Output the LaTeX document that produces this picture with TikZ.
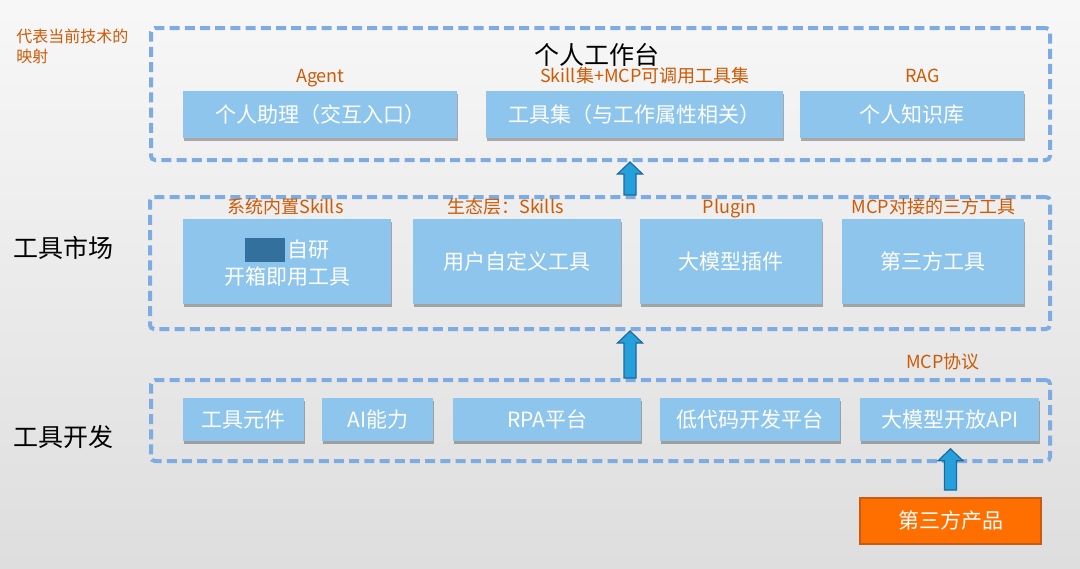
\documentclass[tikz,border=0pt]{standalone}
\usepackage{fontspec}
\setmainfont{Noto Sans CJK SC}
\usepackage{tikz}
\usetikzlibrary{positioning, shadows, calc}

\definecolor{boxblue}{RGB}{142,197,236}
\definecolor{dashblue}{RGB}{125,172,227}
\definecolor{tagorange}{RGB}{205,90,5}
\definecolor{arrowfill}{RGB}{38,160,218}
\definecolor{arrowedge}{RGB}{30,105,160}
\definecolor{prodorange}{RGB}{255,111,0}
\definecolor{prodedge}{RGB}{200,90,20}
\definecolor{redact}{RGB}{52,112,158}

\begin{document}
\begin{tikzpicture}[
    x=0.5pt, y=-0.5pt,
    group/.style={draw=dashblue, line width=2pt, dash pattern=on 5pt off 2.6pt, rounded corners=2pt, anchor=north west, inner sep=0pt},
    tool/.style={fill=boxblue, text=white, anchor=north west, inner sep=0pt, align=center, font=\fontsize{10.5}{13.5}\selectfont,
        drop shadow={shadow xshift=0.5pt, shadow yshift=-1.5pt, fill=black, opacity=0.3}},
    tag/.style={text=tagorange, font=\fontsize{9}{10}\selectfont, inner sep=0pt, anchor=base},
    side/.style={font=\fontsize{12.5}{14}\selectfont, inner sep=0pt, anchor=west},
    blockup/.style={draw=arrowedge, fill=arrowfill, line width=0.6pt,
        to path={let \p1=(\tikztostart), \p2=(\tikztotarget) in
            (\x1-3pt,\y1) -- (\x1-3pt,\y2-6pt) -- (\x1-6.25pt,\y2-6pt) -- (\x1,\y2)
            -- (\x1+6.25pt,\y2-6pt) -- (\x1+3pt,\y2-6pt) -- (\x1+3pt,\y1) -- cycle}}
]
    % background
    \shade [top color=black!3, bottom color=black!13] (0,0) rectangle (1080,568);
    \useasboundingbox (0,0) rectangle (1080,568);

    \node (note) [text=tagorange, font=\fontsize{8}{10}\selectfont, align=left, inner sep=0pt, anchor=west] at (16,46) {代表当前技术的\\映射};

    % personal workbench
    \node (topgrp) [group, minimum width=449.5pt, minimum height=66pt] at (149,26) {};
    \node (title) [font=\fontsize{12.5}{14}\selectfont, inner sep=0pt, anchor=base] at (597,64) {个人工作台};
    \node (assist) [tool, minimum width=137pt, minimum height=23.5pt] at (183,91) {个人助理（交互入口）};
    \node (toolset) [tool, minimum width=148.5pt, minimum height=23.5pt] at (486,91) {工具集（与工作属性相关）};
    \node (kb) [tool, minimum width=112pt, minimum height=23.5pt] at (800,91) {个人知识库};
    \node (agent) [above=4.5pt of assist, tag] {Agent};
    \node (skillset) [above=4.5pt of toolset, xshift=5pt, tag] {Skill集+MCP可调用工具集};
    \node (rag) [above=4.5pt of kb, xshift=5pt, tag] {RAG};

    % tool market
    \node (market) [side] at (13,248) {工具市场};
    \node (midgrp) [group, minimum width=450pt, minimum height=66pt] at (148,195) {};
    \node (builtin) [tool, minimum width=104pt, minimum height=42.5pt] at (183,219) {\textcolor{redact}{\rule[-2pt]{20pt}{12pt}}\hspace{1.5pt}自研\\开箱即用工具};
    \node (custom) [tool, minimum width=104pt, minimum height=42.5pt] at (413,219) {用户自定义工具};
    \node (plugin) [tool, minimum width=91pt, minimum height=42.5pt] at (640,219) {大模型插件};
    \node (third) [tool, minimum width=91pt, minimum height=42.5pt] at (842,219) {第三方工具};
    \node (sysskills) [above=3pt of builtin, xshift=-1pt, tag] {系统内置Skills};
    \node (ecoskills) [above=3pt of custom, xshift=-6pt, tag] {生态层：Skills};
    \node (plugintag) [above=3pt of plugin, xshift=-1pt, tag] {Plugin};
    \node (mcptools) [above=3pt of third, tag] {MCP对接的三方工具};

    % tool development
    \node (devel) [side] at (13,437) {工具开发};
    \node (botgrp) [group, minimum width=449.5pt, minimum height=40.5pt] at (149,378) {};
    \node (parts) [tool, minimum width=60.5pt, minimum height=21.5pt] at (183,398) {工具元件};
    \node (ai) [tool, minimum width=55.5pt, minimum height=21.5pt] at (322,398) {AI能力};
    \node (rpa) [tool, minimum width=94pt, minimum height=21.5pt] at (453,398) {RPA平台};
    \node (lowcode) [tool, minimum width=90pt, minimum height=21.5pt] at (660,398) {低代码开发平台};
    \node (api) [tool, minimum width=89.5pt, minimum height=21.5pt] at (860,398) {大模型开放API};
    \node (mcp) [tag] at (943,368) {MCP协议};

    \node (prod) [fill=prodorange, draw=prodedge, line width=1pt, text=white, font=\fontsize{10.5}{12}\selectfont,
        minimum width=90.5pt, minimum height=23pt, anchor=north west] at (859,497) {第三方产品};

    % arrows
    \coordinate (spine) at (630,0);
    \draw [blockup] (midgrp.north -| spine) to (topgrp.south -| spine);
    \draw [blockup] (botgrp.north -| spine) to (midgrp.south -| spine);
    \draw [blockup] ([yshift=3.5pt]prod.north) to ([yshift=-3.5pt]api.south);
\end{tikzpicture}
\end{document}
